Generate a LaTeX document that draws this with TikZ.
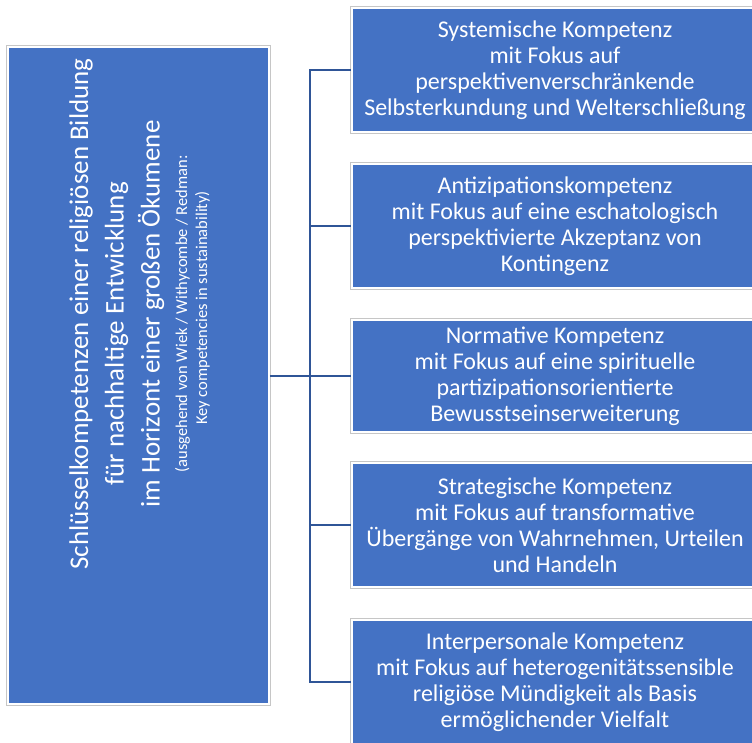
\documentclass[tikz,border=0pt]{standalone}
\usepackage{fontspec}
\setmainfont{Carlito}
\definecolor{fillblue}{HTML}{4472C4}
\definecolor{linegray}{HTML}{C6C6C6}
\definecolor{connblue}{HTML}{2F5597}
\tikzset{
  sbox/.style={fill=fillblue, draw=white, line width=1.5pt,
    preaction={draw=linegray, line width=3.5pt},
    inner sep=0pt, text=white, align=center},
  rbox/.style={sbox, minimum width=406pt, minimum height=124pt,
    font=\fontsize{24}{26}\selectfont},
  bigline/.style={rotate=90, anchor=base, text=white, inner sep=0pt,
    font=\fontsize{27}{30}\selectfont},
  smallline/.style={rotate=90, anchor=base, text=white, inner sep=0pt,
    font=\fontsize{16.5}{20}\selectfont},
  conn/.style={draw=connblue, line width=2.7pt, line join=miter}
}
\begin{document}
\begin{tikzpicture}[x=1pt,y=-1pt]
\useasboundingbox (0,0) rectangle (752,742);
\clip (0,0) rectangle (752,742);

\node[sbox, minimum width=261pt, minimum height=657pt] (L) at (138.5,375.5) {};
\node[bigline] (t1) at (88,314) {Schlüsselkompetenzen einer religiösen Bildung};
\node[bigline] (t2) at (123.5,334) {für nachhaltige Entwicklung};
\node[bigline] (t3) at (159.5,314) {im Horizont einer großen Ökumene};
\node[smallline] (t4) at (187,314) {(ausgehend von Wiek / Withycombe / Redman:};
\node[smallline] (t5) at (207,308) {Key competencies in sustainability)};

\node[rbox] (B1) at (555,70) {Systemische Kompetenz\\mit Fokus auf\\perspektivenverschränkende\\Selbsterkundung und Welterschließung};
\node[rbox] (B2) at (555,226) {Antizipationskompetenz\\mit Fokus auf eine eschatologisch\\perspektivierte Akzeptanz von\\Kontingenz};
\node[rbox, minimum height=112pt] (B3) at (555,376) {Normative Kompetenz\\mit Fokus auf eine spirituelle\\partizipationsorientierte\\Bewusstseinserweiterung};
\node[rbox] (B4) at (555,525) {Strategische Kompetenz\\mit Fokus auf transformative\\Übergänge von Wahrnehmen, Urteilen\\und Handeln};
\node[rbox] (B5) at (555,682) {Interpersonale Kompetenz\\mit Fokus auf heterogenitätssensible\\religiöse Mündigkeit als Basis\\ermöglichender Vielfalt};

\coordinate (J) at (310,376);
\draw[conn] (L.east |- J) -- (J);
\foreach \b in {B1,B2,B3,B4,B5}{
  \draw[conn] (J) |- (\b.west);
}
\end{tikzpicture}
\end{document}
